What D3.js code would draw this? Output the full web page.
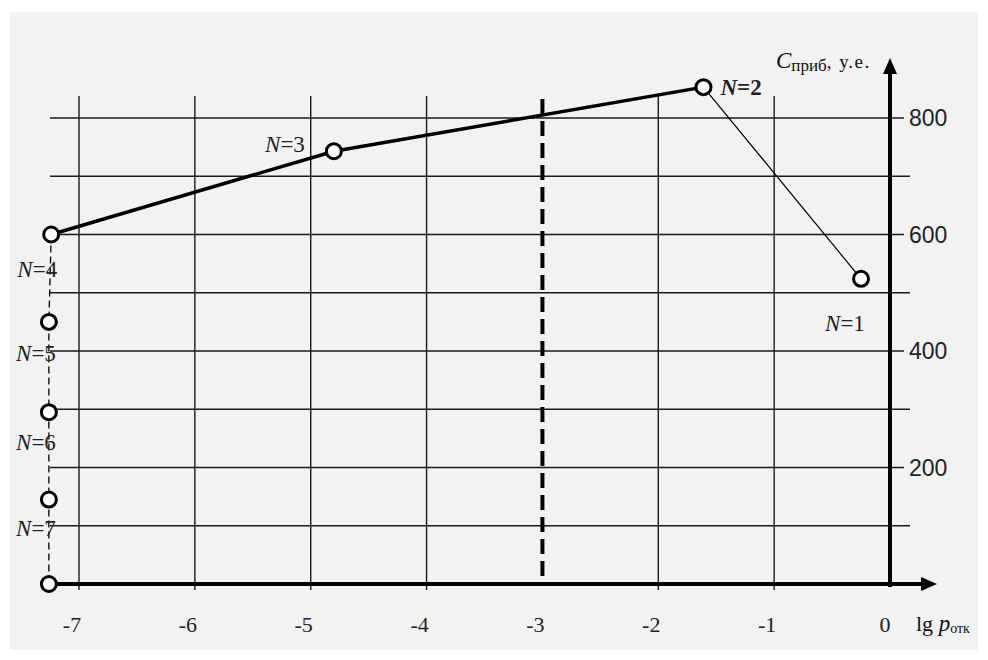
<!DOCTYPE html>
<html><head><meta charset="utf-8">
<script src="https://cdn.jsdelivr.net/npm/d3@7"></script>
<style>body{margin:0;background:#fff}svg{display:block}</style>
</head><body>
<script>
// ---- data ----
const pointLabels = ["1","2","3","4","5","6","7",""];
const lgP  = [-0.25,-1.61,-4.80,-7.24,-7.26,-7.26,-7.26,-7.26];
const cost = [524,853,743,600,450,295,145,0];
const xTicks = [-7,-6,-5,-4,-3,-2,-1,0];
const yTickLabels = [200,400,600,800];
const yGridValues = [100,200,300,400,500,600,700,800];
const thresholdLg = -3;

const W=988,H=660;
const svg=d3.select("body").append("svg").attr("width",W).attr("height",H);
svg.append("rect").attr("x",10).attr("y",12).attr("width",968).attr("height",638).attr("fill","#f2f2f2");

const x=d3.scaleLinear().domain([-7,0]).range([79,890]);
const y=d3.scaleLinear().domain([0,800]).range([584,118]);

const g=svg.append("g");

// vertical gridlines
g.selectAll(".vg").data(xTicks.filter(d=>d!==0 && d!==thresholdLg)).join("line")
 .attr("x1",d=>x(d)).attr("x2",d=>x(d)).attr("y1",96).attr("y2",590)
 .attr("stroke","#1a1a1a").attr("stroke-width",1.4);
// horizontal gridlines
g.selectAll(".hg").data(yGridValues).join("line")
 .attr("x1",50).attr("x2",d=>yTickLabels.includes(d)?904:910)
 .attr("y1",d=>y(d)).attr("y2",d=>y(d))
 .attr("stroke","#1a1a1a").attr("stroke-width",1.4);

// threshold dashed line
g.append("line").attr("x1",x(thresholdLg)).attr("x2",x(thresholdLg))
 .attr("y1",99).attr("y2",584).attr("stroke","#000").attr("stroke-width",4)
 .attr("stroke-dasharray","15,7");

// axes
g.append("line").attr("x1",45).attr("x2",925).attr("y1",y(0)).attr("y2",y(0))
 .attr("stroke","#000").attr("stroke-width",4);
g.append("path").attr("d",`M937,${y(0)} L921,${y(0)-7} L921,${y(0)+7} Z`).attr("fill","#000");
g.append("line").attr("x1",x(0)).attr("x2",x(0)).attr("y1",y(0)+3).attr("y2",70)
 .attr("stroke","#000").attr("stroke-width",4);
g.append("path").attr("d",`M${x(0)},58 L${x(0)-7},74 L${x(0)+7},74 Z`).attr("fill","#000");

// tick labels
g.selectAll(".xt").data(xTicks).join("text")
 .attr("x",d=>x(d)-(d===0?5:7)).attr("y",632).attr("text-anchor","middle")
 .attr("font-family","Liberation Serif").attr("font-size",22).attr("fill","#222")
 .text(d=>d);
g.selectAll(".yt").data(yTickLabels).join("text")
 .attr("x",909).attr("y",d=>y(d)+8).attr("text-anchor","start")
 .attr("font-family","Liberation Sans").attr("font-size",23).attr("fill","#222")
 .text(d=>d);

// axis titles
const yt=g.append("text").attr("x",776).attr("y",68).attr("font-family","Liberation Serif").attr("fill","#111");
yt.append("tspan").attr("font-style","italic").attr("font-size",23).text("C");
yt.append("tspan").attr("font-size",17).attr("dy",3).text("приб");
yt.append("tspan").attr("font-size",19).attr("dy",-3).attr("letter-spacing",1.5).text(", у.е.");
const xt=g.append("text").attr("x",916).attr("y",631).attr("font-family","Liberation Serif").attr("fill","#111");
xt.append("tspan").attr("font-size",22).text("lg ");
xt.append("tspan").attr("font-style","italic").attr("font-size",23).text("p");
xt.append("tspan").attr("font-size",14).attr("dy",2).text("отк");

// data lines
const pts=lgP.map((v,i)=>({lg:v,c:cost[i],n:pointLabels[i]}));
const line=d3.line().x(d=>x(d.lg)).y(d=>y(d.c));
g.append("path").attr("d",line([pts[3],pts[4],pts[5],pts[6],pts[7]]))
 .attr("fill","none").attr("stroke","#000").attr("stroke-width",1.3).attr("stroke-dasharray","7,4");
g.append("path").attr("d",line([pts[3],pts[2],pts[1]]))
 .attr("fill","none").attr("stroke","#000").attr("stroke-width",3.5);
g.append("path").attr("d",line([pts[1],pts[0]]))
 .attr("fill","none").attr("stroke","#000").attr("stroke-width",1.2);

// labels
const lblPos={ "1":{dx:-36,dy:52,anchor:"start"}, "2":{dx:17,dy:8,anchor:"start"},
  "3":{dx:-29,dy:1,anchor:"end"}, "4":{dx:6,dy:42,anchor:"end"}, "5":{dx:7,dy:39,anchor:"end"},
  "6":{dx:7,dy:38,anchor:"end"}, "7":{dx:7,dy:36,anchor:"end"} };
pts.filter(d=>d.n!=="").forEach(d=>{
  const p=lblPos[d.n];
  const t=g.append("text").attr("x",x(d.lg)+p.dx).attr("y",y(d.c)+p.dy)
   .attr("text-anchor",p.anchor).attr("font-family","Liberation Serif").attr("font-size",23)
   .attr("fill","#222").attr("font-weight",d.n==="2"?"bold":"normal");
  t.append("tspan").attr("font-style","italic").text("N");
  t.append("tspan").text("="+d.n);
});

// points
g.selectAll(".pt").data(pts).join("circle")
 .attr("cx",d=>x(d.lg)).attr("cy",d=>y(d.c)).attr("r",7.5)
 .attr("fill","#fff").attr("stroke","#000").attr("stroke-width",3);
</script>
</body></html>
